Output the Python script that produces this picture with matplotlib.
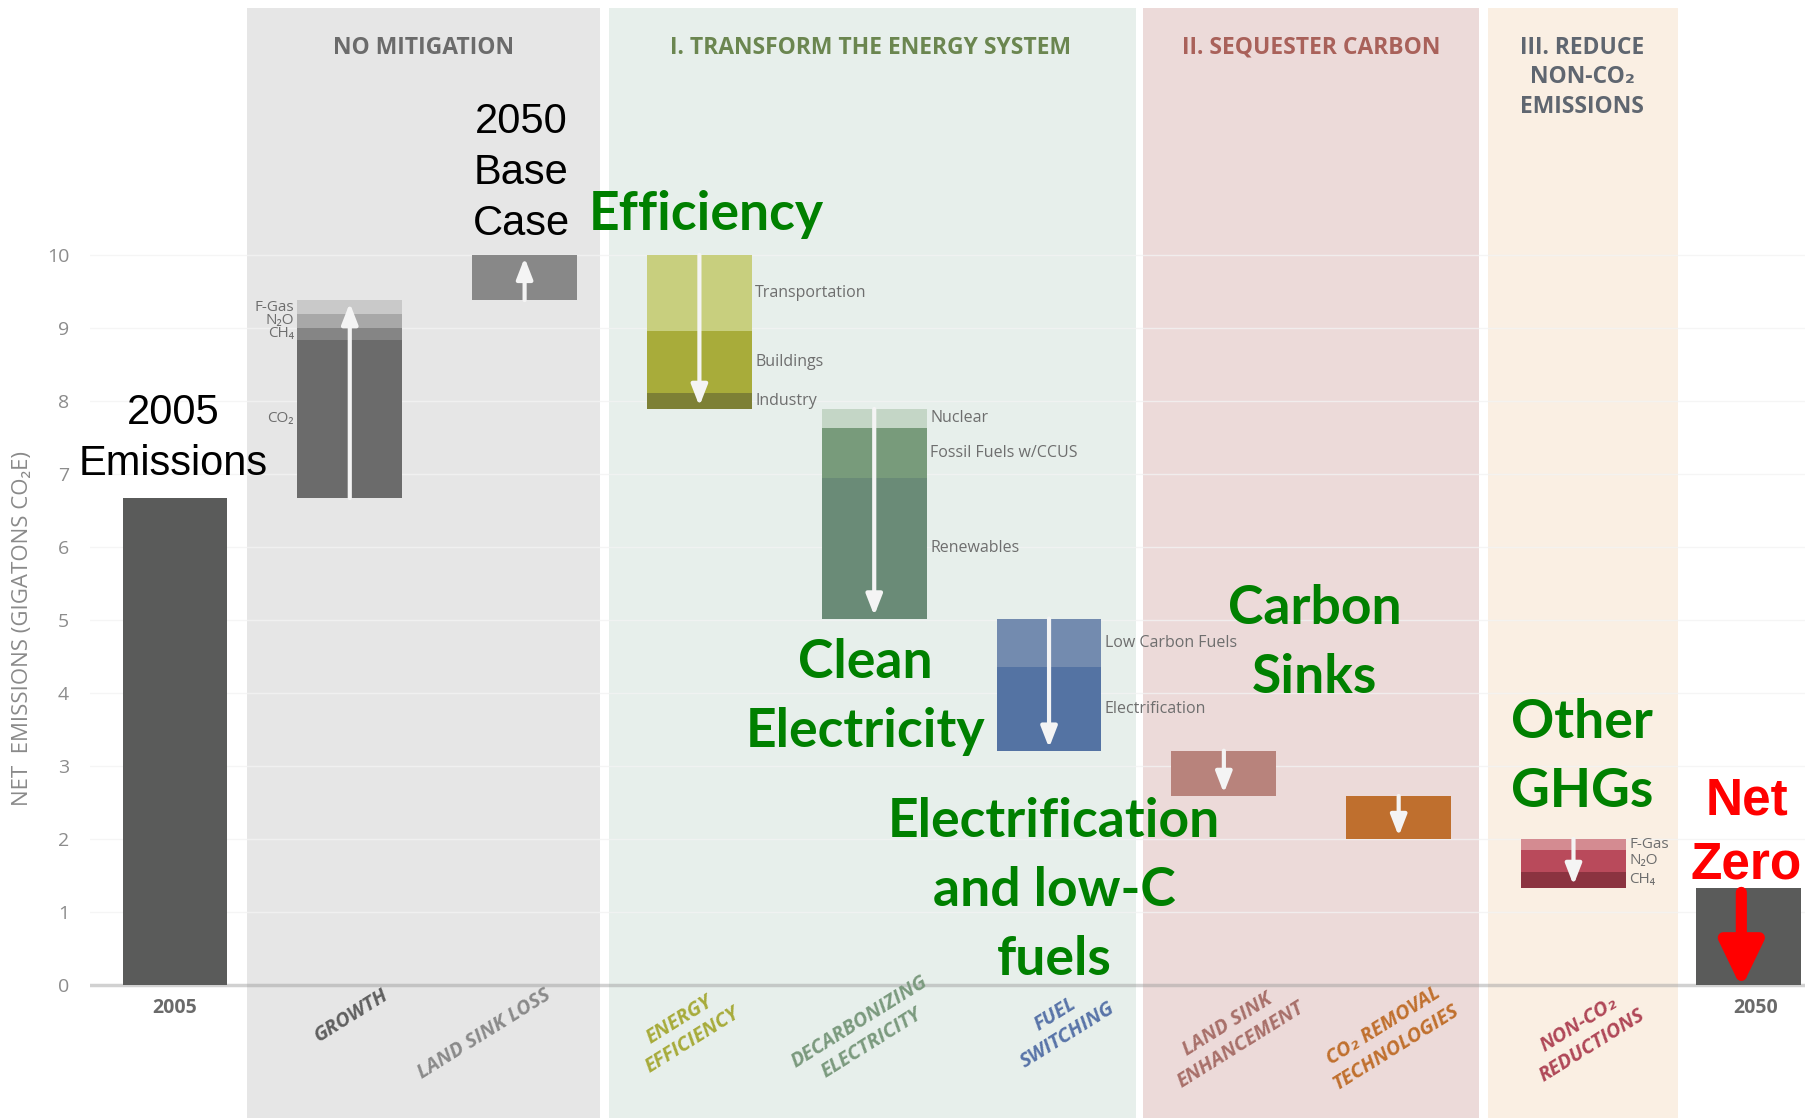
import matplotlib
matplotlib.use('Agg')
import matplotlib.pyplot as plt
from matplotlib import font_manager

# ---- data: net emissions waterfall (gigatons CO2e) ----
categories = ['2005', 'GROWTH', 'LAND SINK LOSS', 'ENERGY\nEFFICIENCY', 'DECARBONIZING\nELECTRICITY',
              'FUEL\nSWITCHING', 'LAND SINK\nENHANCEMENT', 'CO₂ REMOVAL\nTECHNOLOGIES',
              'NON-CO₂\nREDUCTIONS', '2050']
emissions_2005 = 6.67
growth_parts = [2.17, 0.16, 0.19, 0.19]
growth_labels = ['CO₂', 'CH₄', 'N₂O', 'F-Gas']
land_sink_loss = [0.62]
efficiency_parts = [-1.04, -0.85, -0.22]
efficiency_labels = ['Transportation', 'Buildings', 'Industry']
electricity_parts = [-0.26, -0.68, -1.93]
electricity_labels = ['Nuclear', 'Fossil Fuels w/CCUS', 'Renewables']
fuel_parts = [-0.67, -1.14]
fuel_labels = ['Low Carbon Fuels', 'Electrification']
land_sink_enhancement = [-0.62]
co2_removal = [-0.59]
nonco2_parts = [-0.15, -0.30, -0.22]
nonco2_labels = ['F-Gas', 'N₂O', 'CH₄']

# colours
total_color = '#5a5b5a'
growth_colors = ['#6b6b6b', '#858585', '#a8a8a8', '#c9c9c9']
efficiency_colors = ['#c8cf7e', '#a8ac3a', '#7d8035']
electricity_colors = ['#c4d6c6', '#789b7b', '#6a8b77']
fuel_colors = ['#738baf', '#5473a3']
tick_colors = ['#6a6a6a', '#5f5f5f', '#8a8a8a', '#a7ab3a', '#7b9a7e', '#5874a8', '#a8706a', '#c0702e', '#b04858', '#6a6a6a']

names = {f.name for f in font_manager.fontManager.ttflist}
narrow = 'Liberation Sans Narrow' if 'Liberation Sans Narrow' in names else 'Open Sans'
calibri = 'Lato' if 'Lato' in names else 'Open Sans'
arial = 'Liberation Sans'

W, H = 1806, 1118
fig = plt.figure(figsize=(W / 100, H / 100), dpi=100)
ax = fig.add_axes([90 / W, 0, 1 - 90 / W, 1])
ax.set_xlim(-0.486, 9.33)
ax.set_ylim(-1.82, 13.49)

# background panels
panels = [(0.41, 2.43, '#e6e6e6', 'NO MITIGATION', '#6b6b6b', 1.42),
          (2.48, 5.50, '#e7efeb', 'I. TRANSFORM THE ENERGY SYSTEM', '#6b8650', 3.98),
          (5.54, 7.46, '#ecdad9', 'II. SEQUESTER CARBON', '#a9615a', 6.50),
          (7.51, 8.60, '#faefe3', 'III. REDUCE\nNON-CO₂\nEMISSIONS', '#5f6670', 8.05)]
for x0, x1, c, title, tc, tx in panels:
    ax.fill_between([x0, x1], -1.82, 13.38, color=c, zorder=0, lw=0)
    ax.text(tx, 13.0, title, ha='center', va='top', color=tc, fontsize=16.5,
            fontweight='bold', family=[narrow, 'DejaVu Sans'], linespacing=1.3, zorder=3)

for v in range(1, 11):
    ax.axhline(v, color='#f3f3f3', lw=1, alpha=0.8, zorder=0.5)
ax.axhline(0, color='#9a9a9a', lw=2.5, alpha=0.45, zorder=1)

w = 0.6
ax.bar(0, emissions_2005, width=w, color=total_color, zorder=2)

steps = [(growth_parts, growth_colors, growth_labels, 'left', 11),
         (land_sink_loss, ['#888888'], None, None, 0),
         (efficiency_parts, efficiency_colors, efficiency_labels, 'right', 11.5),
         (electricity_parts, electricity_colors, electricity_labels, 'right', 11.5),
         (fuel_parts, fuel_colors, fuel_labels, 'right', 11.5),
         (land_sink_enhancement, ['#b8837c'], None, None, 0),
         (co2_removal, ['#bf6f2e'], None, None, 0),
         (nonco2_parts, ['#d48b91', '#b94a5b', '#8b3340'], nonco2_labels, 'right', 11)]

level = emissions_2005
for i, (parts, cols, labs, side, fs) in enumerate(steps, start=1):
    start = level
    for j, p in enumerate(parts):
        bottom = level if p > 0 else level + p
        ax.bar(i, abs(p), bottom=bottom, width=w, color=cols[j], zorder=2)
        if labs:
            ym = bottom + abs(p) / 2
            if side == 'left':
                ax.text(i - w / 2 - 0.02, ym, labs[j], ha='right', va='center', fontsize=fs,
                        color='#6e6e6e', family=[narrow, 'DejaVu Sans'], zorder=3)
            else:
                ax.text(i + w / 2 + 0.02, ym, labs[j], ha='left', va='center', fontsize=fs,
                        color='#6e6e6e', family=[narrow, 'DejaVu Sans'], zorder=3)
        level += p
    end = level
    sgn = 1 if end > start else -1
    ax.annotate('', xy=(i, end - sgn * 0.04), xytext=(i, start),
                arrowprops=dict(arrowstyle='-|>,head_width=0.35,head_length=0.9', color='#f4f4f4',
                                lw=3, shrinkA=0, shrinkB=0, mutation_scale=14), zorder=4)

ax.bar(9, level, width=w, color=total_color, zorder=2)

# axis styling
for s in ax.spines.values():
    s.set_visible(False)
ax.set_xticks([])
ax.set_yticks(range(0, 11))
ax.tick_params(axis='y', length=0, pad=15, labelsize=14, labelcolor='#8c8c8c')
for t in ax.get_yticklabels():
    t.set_family('Open Sans')
fig.text(23 / W, 0.438, 'NET  EMISSIONS (GIGATONS CO₂E)', rotation=90, ha='center', va='center',
         fontsize=16, color='#8a8a8a', family=['Open Sans', 'DejaVu Sans'])

# category labels
label_pos = [(0, -0.32), (1.01, -0.42), (1.77, -0.67), (2.92, -0.62), (3.95, -0.65),
             (5.07, -0.54), (6.06, -0.68), (6.95, -0.71), (8.07, -0.69), (9.04, -0.32)]
for k, (cat, (lx, ly)) in enumerate(zip(categories, label_pos)):
    if cat in ('2005', '2050'):
        ax.text(lx, ly, cat, ha='center', va='center', fontsize=14, fontweight='bold',
                color=tick_colors[k], family=['Open Sans', 'DejaVu Sans'])
    else:
        ax.text(lx, ly, cat, ha='center', va='center', rotation=32, rotation_mode='anchor',
                fontsize=14.5, fontweight='bold', fontstyle='italic', color=tick_colors[k],
                family=['Open Sans', 'DejaVu Sans'], multialignment='center', linespacing=1.3)

# annotations
ax.text(-0.01, 7.48, '2005\nEmissions', ha='center', va='center', fontsize=30, family=arial,
        color='black', linespacing=1.36, zorder=5)
ax.text(1.98, 11.12, '2050\nBase\nCase', ha='center', va='center', fontsize=30, family=arial,
        color='black', linespacing=1.36, zorder=5)
green = '#008000'
for txt, tx, ty in [('Efficiency', 3.04, 10.55), ('Clean\nElectricity', 3.95, 3.95),
                    ('Electrification\nand low-C\nfuels', 5.03, 1.30), ('Carbon\nSinks', 6.52, 4.68),
                    ('Other\nGHGs', 8.05, 3.12)]:
    ax.text(tx, ty, txt, ha='center', va='center', fontsize=38.5, fontweight='bold', family=calibri,
            color=green, linespacing=1.5, zorder=5)
ax.text(8.99, 2.08, 'Net\nZero', ha='center', va='center', fontsize=37, fontweight='bold',
        family=arial, color='#ff0000', linespacing=1.4, zorder=5)
ax.annotate('', xy=(8.96, -0.04), xytext=(8.96, level - 0.06),
            arrowprops=dict(arrowstyle='-|>,head_width=0.65,head_length=1.35', color='#ff0000',
                            lw=8, shrinkA=0, shrinkB=0, mutation_scale=20), zorder=6)

fig.savefig('out.png', dpi=100)
